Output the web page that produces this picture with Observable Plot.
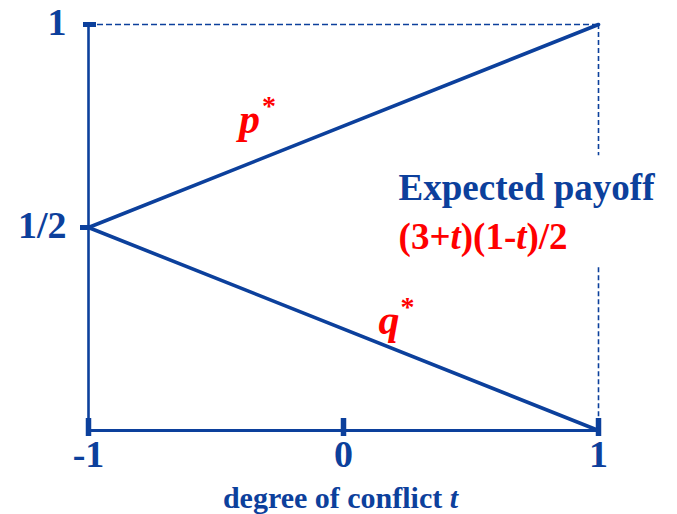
<!DOCTYPE html>
<html><head><meta charset="utf-8">
<script src="https://cdn.jsdelivr.net/npm/d3@7"></script>
<script src="https://cdn.jsdelivr.net/npm/@observablehq/plot@0.6"></script>
<style>html,body{margin:0;padding:0;background:#fff} svg{display:block}</style>
</head><body><div id="chart"></div>
<script>
// ---- data ----
const tValues = [-1, 1];
const pStar = [0.5, 1];
const qStar = [0.5, 0];
const xTicks = [-1, 0, 1];
const xTickLabels = ["-1", "0", "1"];
const yTicks = [0.5, 1];
const yTickLabels = ["1/2", "1"];
const rightGuide = [[1, 0.677], [0.401, 0.034]]; // value extents of the dashed guide at t = 1
const xTitle = "degree of conflict t";
const payoffTitle = "Expected payoff";
const payoffFormula = "(3+t)(1-t)/2";
const curveNames = ["p*", "q*"];
const curveLabelT = [-0.41, 0.137];
const curveLabelV = [0.765, 0.272];

// ---- style ----
const blue = "#0c409c", red = "#ff0000";
const font = "'Liberation Serif', 'Times New Roman', serif";

const pData = tValues.map((t, i) => ({t, v: pStar[i]}));
const qData = tValues.map((t, i) => ({t, v: qStar[i]}));
const curveLabels = curveNames.map((name, i) => ({name, t: curveLabelT[i], v: curveLabelV[i]}));

const plot = Plot.plot({
  width: 677, height: 514,
  marginTop: 24, marginBottom: 84, marginLeft: 88, marginRight: 79,
  x: {domain: [-1, 1], axis: null},
  y: {domain: [0, 1], axis: null},
  style: {fontFamily: font, background: "white", overflow: "visible"},
  marks: [
    // dashed top guide
    Plot.ruleY([yTicks[1]], {x1: xTicks[0], x2: xTicks[2], stroke: blue, strokeWidth: 1.6, strokeDasharray: "6,3"}),
    // dashed right guide
    Plot.ruleX(rightGuide, {x: () => xTicks[2], y1: d => d[0], y2: d => d[1], stroke: blue, strokeWidth: 1.6, strokeDasharray: "5,3"}),
    // axes
    Plot.ruleX([xTicks[0]], {y1: 0, y2: 1, stroke: blue, strokeWidth: 2.6}),
    Plot.ruleY([0], {x1: xTicks[0], x2: xTicks[2], stroke: blue, strokeWidth: 2.8}),
    // ticks
    Plot.ruleX(xTicks, {y1: 0, y2: 0, insetTop: -12, insetBottom: -6, stroke: blue, strokeWidth: 5.5}),
    Plot.ruleY([yTicks[1]], {x1: xTicks[0], x2: xTicks[0], insetLeft: -5, insetRight: -8, stroke: blue, strokeWidth: 5}),
    Plot.ruleY([yTicks[0]], {x1: xTicks[0], x2: xTicks[0], insetLeft: -8, insetRight: 0, stroke: blue, strokeWidth: 5}),
    // curves
    Plot.line(pData, {x: "t", y: "v", stroke: blue, strokeWidth: 3.6}),
    Plot.line(qData, {x: "t", y: "v", stroke: blue, strokeWidth: 3.6}),
    // tick labels
    Plot.text(xTicks, {x: d => d, y: () => 0, text: (d, i) => xTickLabels[i], dy: 24, fontSize: 38, fontWeight: "bold", fill: blue}),
    Plot.text(yTicks, {x: () => xTicks[0], y: d => d, text: (d, i) => yTickLabels[i], textAnchor: "end", dx: -22, dy: -2, fontSize: 38, fontWeight: "bold", fill: blue}),
    // axis title
    Plot.text([xTitle], {x: () => 0, y: () => 0, dx: -3, dy: 68, fontSize: 30, fontWeight: "bold", fill: blue}),
    // annotations
    Plot.text([payoffTitle], {x: () => 0.216, y: () => 0.598, textAnchor: "start", fontSize: 37, fontWeight: "bold", fill: blue}),
    Plot.text([payoffFormula], {x: () => 0.216, y: () => 0.476, textAnchor: "start", fontSize: 37, fontWeight: "bold", fill: red}),
    Plot.text(curveLabels, {x: "t", y: "v", text: "name", textAnchor: "start", fontSize: 42, fontWeight: "bold", fill: red})
  ]
});

const rich = {
  "degree of conflict t": 'degree of conflict <tspan font-style="italic">t</tspan>',
  "(3+t)(1-t)/2": '(3+<tspan font-style="italic">t</tspan>)(1-<tspan font-style="italic">t</tspan>)/2',
  "p*": '<tspan font-style="italic">p</tspan><tspan font-size="28" dx="2" dy="-18">*</tspan>',
  "q*": '<tspan font-style="italic">q</tspan><tspan font-size="28" dx="1" dy="-18">*</tspan>'
};
d3.select(plot).selectAll("text").each(function () {
  const s = this.textContent;
  if (rich[s]) this.innerHTML = rich[s];
});

document.getElementById("chart").appendChild(plot);
</script>
</body></html>
